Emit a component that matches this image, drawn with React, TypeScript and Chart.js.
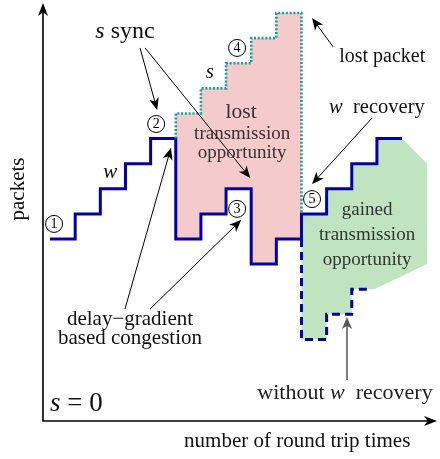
import React, { useEffect, useRef } from 'react';
import { Chart, registerables } from 'chart.js';

Chart.register(...registerables);

// ---- data: x = round trip number, y = packets (in step units) ----
const wRtt = [0, 1, 2, 3, 4, 5, 6, 7, 8, 9, 10, 11, 12, 13, 14];
const wPackets = [4, 5, 6, 7, 8, 4, 5, 6, 3, 4, 5, 6, 7, 8, 8];
const sRtt = [5, 5, 6, 7, 8, 9, 10, 10];
const sPackets = [8, 9, 10, 11, 12, 13, 13, 5];
const noRecoveryRtt = [10, 10, 11, 12, 12.8];
const noRecoveryPackets = [4, 0, 1, 2, 2];
const lostRtt = [5, 5, 6, 7, 8, 9, 10, 10, 9, 8, 7, 6, 5];
const lostPackets = [8, 9, 10, 11, 12, 13, 13, 4, 3, 6, 5, 4, 8];
const gainedRtt = [10, 11, 11, 12, 12, 13, 13, 14, 15, 15, 12.9, 12, 12, 11, 11, 10];
const gainedPackets = [5, 5, 6, 6, 7, 7, 8, 8, 7, 3, 2, 2, 1, 1, 0, 0];

const pts = (xs: number[], ys: number[]) => xs.map((x, i) => ({ x, y: ys[i] }));

// ---- annotation layout (data coordinates) ----
const SERIF = "'Liberation Serif', 'DejaVu Serif', serif";
type Part = [string, boolean];
const textLabels: { parts: Part[]; x: number; y: number; size: number; color?: string; align?: string }[] = [
  { parts: [['s', true], [' sync', false]], x: 2.98, y: 12.25, size: 24 },
  { parts: [['s', true]], x: 6.36, y: 10.65, size: 21 },
  { parts: [['w', true]], x: 2.39, y: 6.63, size: 21 },
  { parts: [['lost packet', false]], x: 13.21, y: 11.25, size: 20 },
  { parts: [['w', true], ['  recovery', false]], x: 13.0, y: 9.22, size: 20.5 },
  { parts: [['lost', false]], x: 7.6, y: 9.06, size: 21.5, color: '#333' },
  { parts: [['transmission', false]], x: 7.64, y: 8.18, size: 19, color: '#333' },
  { parts: [['opportunity', false]], x: 7.64, y: 7.43, size: 19, color: '#333' },
  { parts: [['gained', false]], x: 12.61, y: 5.16, size: 19, color: '#333' },
  { parts: [['transmission', false]], x: 12.61, y: 4.16, size: 19, color: '#333' },
  { parts: [['opportunity', false]], x: 12.61, y: 3.16, size: 19, color: '#333' },
  { parts: [['delay\u2212gradient', false]], x: 3.18, y: 0.81, size: 21 },
  { parts: [['based congestion', false]], x: 3.18, y: 0.02, size: 21 },
  { parts: [['without ', false], ['w', true], ['  recovery', false]], x: 11.73, y: -2.14, size: 22, color: '#222' },
  { parts: [['s', true], [' = 0', false]], x: 0, y: -2.57, size: 27, align: 'left' },
  { parts: [['number of round trip times', false]], x: 9.83, y: -4.05, size: 21 },
];
const circles = [
  { n: '1', x: 0.16, y: 4.6 },
  { n: '2', x: 4.22, y: 8.58 },
  { n: '3', x: 7.44, y: 5.2 },
  { n: '4', x: 7.44, y: 11.61 },
  { n: '5', x: 10.42, y: 5.59 },
];
const arrows = [
  { x1: 3.58, y1: 11.61, x2: 4.26, y2: 9.14, color: '#000' },
  { x1: 3.78, y1: 11.61, x2: 7.96, y2: 6.43, color: '#000' },
  { x1: 2.98, y1: 1.21, x2: 4.81, y2: 7.63, color: '#000' },
  { x1: 3.98, y1: 1.21, x2: 7.6, y2: 4.76, color: '#000' },
  { x1: 11.26, y1: 11.65, x2: 10.42, y2: 12.8, color: '#000' },
  { x1: 12.81, y1: 8.82, x2: 10.42, y2: 6.19, color: '#000' },
  { x1: 11.81, y1: -1.62, x2: 11.81, y2: 0.89, color: '#555' },
];

function arrowHead(ctx: CanvasRenderingContext2D, x: number, y: number, ang: number, len: number, half: number) {
  ctx.save();
  ctx.translate(x, y);
  ctx.rotate(ang);
  ctx.beginPath();
  ctx.moveTo(0, 0);
  ctx.lineTo(-len, -half);
  ctx.lineTo(-len * 0.72, 0);
  ctx.lineTo(-len, half);
  ctx.closePath();
  ctx.fill();
  ctx.restore();
}

function drawParts(ctx: CanvasRenderingContext2D, parts: Part[], x: number, y: number, size: number, align?: string) {
  const fonts = parts.map(([, it]) => `${it ? 'italic ' : ''}${size}px ${SERIF}`);
  let total = 0;
  const widths = parts.map(([t], i) => {
    ctx.font = fonts[i];
    const w = ctx.measureText(t).width;
    total += w;
    return w;
  });
  let cx = align === 'left' ? x : x - total / 2;
  ctx.textAlign = 'left';
  ctx.textBaseline = 'middle';
  parts.forEach(([t], i) => {
    ctx.font = fonts[i];
    ctx.fillText(t, cx, y);
    cx += widths[i];
  });
}

const annotPlugin = {
  id: 'annot',
  afterDatasetsDraw(chart: any) {
    const ctx: CanvasRenderingContext2D = chart.ctx;
    const xs = chart.scales.x;
    const ys = chart.scales.y;
    const px = (v: number) => xs.getPixelForValue(v);
    const py = (v: number) => ys.getPixelForValue(v);
    const a = chart.chartArea;
    ctx.save();
    // axes
    ctx.strokeStyle = '#000';
    ctx.fillStyle = '#000';
    ctx.lineWidth = 1.6;
    ctx.beginPath();
    ctx.moveTo(a.left, a.top + 8);
    ctx.lineTo(a.left, a.bottom);
    ctx.lineTo(a.right - 8, a.bottom);
    ctx.stroke();
    arrowHead(ctx, a.left, a.top, -Math.PI / 2, 13, 5);
    arrowHead(ctx, a.right, a.bottom, 0, 13, 5);

    // arrows
    arrows.forEach((ar) => {
      const x1 = px(ar.x1), y1 = py(ar.y1), x2 = px(ar.x2), y2 = py(ar.y2);
      const ang = Math.atan2(y2 - y1, x2 - x1);
      ctx.strokeStyle = ar.color;
      ctx.fillStyle = ar.color;
      ctx.lineWidth = ar.color === '#000' ? 1 : 1.5;
      ctx.beginPath();
      ctx.moveTo(x1, y1);
      ctx.lineTo(x2 - Math.cos(ang) * 7, y2 - Math.sin(ang) * 7);
      ctx.stroke();
      arrowHead(ctx, x2, y2, ang, 12, 5);
    });

    // circled numbers
    circles.forEach((c) => {
      const x = px(c.x), y = py(c.y);
      ctx.strokeStyle = '#000';
      ctx.lineWidth = 1;
      ctx.beginPath();
      ctx.arc(x, y, 8.5, 0, Math.PI * 2);
      ctx.stroke();
      ctx.fillStyle = '#000';
      ctx.font = `14px ${SERIF}`;
      ctx.textAlign = 'center';
      ctx.textBaseline = 'middle';
      ctx.fillText(c.n, x, y + 0.5);
    });

    // text labels
    textLabels.forEach((l) => {
      ctx.fillStyle = l.color || '#111';
      drawParts(ctx, l.parts, px(l.x), py(l.y), l.size, l.align);
    });

    // y axis title
    ctx.save();
    ctx.translate(px(-1.27), py(5.99));
    ctx.rotate(-Math.PI / 2);
    ctx.fillStyle = '#111';
    drawParts(ctx, [['packets', false]], 0, 0, 21);
    ctx.restore();

    ctx.restore();
  },
};

export default function App() {
  const ref = useRef<HTMLCanvasElement>(null);
  useEffect(() => {
    if (!ref.current) return;
    const blue = '#0000ac';
    const chart = new Chart(ref.current, {
      type: 'line',
      data: {
        datasets: [
          {
            data: pts(sRtt, sPackets),
            borderColor: '#10a0a0',
            borderWidth: 2.6,
            borderDash: [2, 1.8],
            stepped: 'before',
            pointRadius: 0,
            fill: false,
            order: 1,
          },
          {
            data: pts(wRtt, wPackets),
            borderColor: blue,
            borderWidth: 3,
            stepped: 'before',
            pointRadius: 0,
            fill: false,
            order: 2,
          },
          {
            data: pts(noRecoveryRtt, noRecoveryPackets),
            borderColor: blue,
            borderWidth: 3,
            borderDash: [8, 5],
            stepped: 'before',
            pointRadius: 0,
            fill: false,
            order: 3,
          },
          {
            data: pts(gainedRtt, gainedPackets),
            borderWidth: 0,
            borderColor: 'rgba(0,0,0,0)',
            backgroundColor: 'rgb(192,228,192)',
            pointRadius: 0,
            fill: 'shape',
            order: 4,
          },
          {
            data: pts(lostRtt, lostPackets),
            borderWidth: 0,
            borderColor: 'rgba(0,0,0,0)',
            backgroundColor: 'rgb(245,202,202)',
            stepped: 'before',
            pointRadius: 0,
            fill: 'shape',
            order: 5,
          },
        ],
      },
      options: {
        animation: false,
        responsive: false,
        events: [],
        layout: { padding: { left: 43, top: 3, right: 3, bottom: 38 } },
        plugins: { legend: { display: false }, tooltip: { enabled: false } },
        scales: {
          x: { type: 'linear', min: -0.28, max: 15.39, display: false },
          y: { type: 'linear', min: -3.25, max: 13.4, display: false },
        },
      },
      plugins: [annotPlugin],
    } as any);
    let alive = true;
    const fs: any = (document as any).fonts;
    if (fs && fs.load) {
      Promise.all([
        fs.load(`20px 'Liberation Serif'`),
        fs.load(`italic 20px 'Liberation Serif'`),
      ]).then(() => { if (alive) chart.update(); }).catch(() => {});
    }
    return () => { alive = false; chart.destroy(); };
  }, []);
  return (
    <div style={{ position: 'absolute', left: 0, top: 0, width: 440, height: 459, background: '#fff' }}>
      <span style={{ position: 'absolute', left: -9999, fontFamily: 'Liberation Serif' }}>a<i>s</i></span>
      <canvas ref={ref} width={440} height={459} />
    </div>
  );
}
